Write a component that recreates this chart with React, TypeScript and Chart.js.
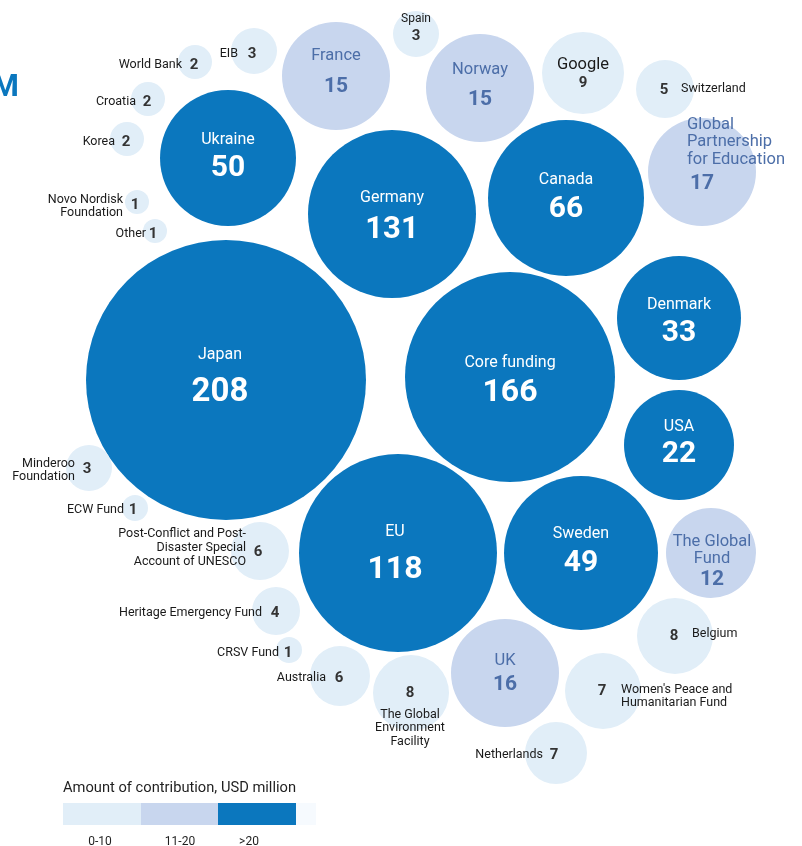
import React, { useEffect, useRef } from "react";
import { Chart, registerables } from "chart.js";

Chart.register(...registerables);

// ---------- DATA ----------
const donors: string[] = [
  "Japan", "Core funding", "Germany", "EU", "Canada", "Ukraine", "Sweden", "Denmark", "USA",
  "Global\nPartnership\nfor Education", "UK", "France", "Norway", "The Global\nFund", "Google",
  "Belgium", "Women's Peace and\nHumanitarian Fund", "The Global\nEnvironment\nFacility", "Netherlands",
  "Post-Conflict and Post-\nDisaster Special\nAccount of UNESCO", "Australia", "Switzerland",
  "Heritage Emergency Fund", "EIB", "Spain", "Minderoo\nFoundation", "World Bank", "Croatia", "Korea",
  "Novo Nordisk\nFoundation", "Other", "ECW Fund", "CRSV Fund",
];
const amounts: number[] = [
  208, 166, 131, 118, 66, 50, 49, 33, 22,
  17, 16, 15, 15, 12, 9,
  8, 7, 8, 7,
  6, 6, 5,
  4, 3, 3, 3, 2, 2, 2,
  1, 1, 1, 1,
];
const legendTitle = "Amount of contribution, USD million";
const legendBins: string[] = ["0-10", "11-20", ">20"];

// ---------- LAYOUT (packing positions in chart units, radius in px) ----------
const packX = [226, 510, 392, 398, 566, 228, 581, 679, 679, 702, 505, 336, 480, 711, 583, 675, 603, 411, 556, 260, 340, 665, 276, 254, 416, 89, 195, 148, 127, 137, 155, 135, 289];
const packY = [380, 377, 214, 553, 198, 158, 553, 318, 445, 172, 673, 76, 88, 553, 73, 636, 691, 693, 753, 551, 676, 89, 611, 51, 34, 468, 62, 99, 139, 202, 231, 508, 650];
const packR = [140, 105, 84, 99, 78, 68, 77, 62, 55, 54, 54, 54, 54, 45, 41, 38, 38, 38, 31, 29, 30, 29, 24, 23, 23, 23, 17, 17, 17, 12, 12, 13, 13];

// label placement: [nameDx, nameDy, align, valueDx, valueDy, lineHeight, nameSize, valueSize]
type LP = [number, number, CanvasTextAlign, number, number, number, number, number];
const labelPos: LP[] = [
  [-6, -27, "center", -6, 11, 18, 16, 33], // Japan
  [0, -16, "center", 0, 14, 18, 16, 32], // Core
  [0, -18, "center", 0, 14, 18, 16, 31], // Germany
  [-3, -23, "center", -3, 15, 18, 16, 32], // EU
  [0, -20, "center", 0, 9, 18, 16, 30], // Canada
  [0, -20, "center", 0, 8, 18, 16, 30], // Ukraine
  [0, -21, "center", 0, 8, 18, 16, 30], // Sweden
  [0, -15, "center", 0, 13, 18, 16, 30], // Denmark
  [0, -20, "center", 0, 7, 18, 16, 30], // USA
  [-15, -32, "left", 0, 10, 17.5, 16.5, 21], // GPE
  [0, -14, "center", 0, 10, 18, 16.5, 21], // UK
  [0, -22, "center", 0, 9, 18, 16.5, 21], // France
  [0, -20, "center", 0, 10, 18, 16.5, 21], // Norway
  [1, -4.5, "center", 1, 25, 17, 16.5, 21], // Global Fund
  [0, -10, "center", 0, 8, 18, 16.5, 15], // Google
  [17, -4, "left", -1, -2, 13, 12.5, 15], // Belgium
  [18, 3.5, "left", -1, -2, 13.5, 12.5, 15], // Women's
  [-1, 33, "center", -1, -2, 13.5, 12.5, 15], // GEF
  [-13, 0, "right", -2, 0, 13, 12.5, 15], // Netherlands
  [-14, -5, "right", -2, -1, 14, 12.5, 15], // Post-Conflict
  [-14, 0, "right", -1, 0, 13, 12.5, 15], // Australia
  [16, -2, "left", -1, -1, 13, 12.5, 15], // Switzerland
  [-14, 0, "right", -1, 0, 13, 12.5, 15], // Heritage
  [-16, 1, "right", -2, 1, 13, 12.5, 15], // EIB
  [0, -17, "center", 0, 0, 13, 12, 15], // Spain
  [-14, 0, "right", -2, -1, 13, 12.5, 15], // Minderoo
  [-13, 1, "right", -1, 1, 13, 12.5, 15], // World Bank
  [-12, 1, "right", -1, 1, 13, 12.5, 15], // Croatia
  [-12, 1, "right", -1, 1, 13, 12.5, 15], // Korea
  [-14, 2, "right", -2, 1, 13, 12.5, 15], // Novo
  [-9, 1, "right", -2, 1, 13, 12.5, 15], // Other
  [-11, 0, "right", -2, 0, 13, 12.5, 15], // ECW
  [-10, 1, "right", -1, 1, 13, 12.5, 15], // CRSV
];

// ---------- STYLE ----------
const DARK = "#0b77be";
const MID = "#c8d6ee";
const LIGHT = "#e1eef8";
const FAINT = "#f6fafe";
const FONT = "Roboto, 'Noto Sans', sans-serif";
const TEXT_NUDGE = 2;

function tier(v: number): number {
  return v <= 10 ? 0 : v <= 20 ? 1 : 2;
}
const fills = [LIGHT, MID, DARK];
const nameColors = ["#1a1a1a", "#4c6ea8", "#ffffff"];
const valueColors = ["#333333", "#4c6ea8", "#ffffff"];

const labelPlugin = {
  id: "bubbleLabels",
  afterDatasetsDraw(chart: any) {
    const ctx: CanvasRenderingContext2D = chart.ctx;
    const xs = chart.scales.x;
    const ys = chart.scales.y;
    ctx.save();
    ctx.textBaseline = "middle";
    donors.forEach((name, i) => {
      const [ndx, ndy, align, vdx, vdy, lh, ns, vs] = labelPos[i];
      const t = tier(amounts[i]);
      const cx = xs.getPixelForValue(packX[i]);
      const cy = ys.getPixelForValue(packY[i]) + TEXT_NUDGE;
      const lines = name.split("\n");
      ctx.font = `400 ${ns}px ${FONT}`;
      ctx.fillStyle = nameColors[t];
      ctx.textAlign = align;
      const y0 = cy + ndy - ((lines.length - 1) * lh) / 2;
      lines.forEach((ln, k) => ctx.fillText(ln, cx + ndx, y0 + k * lh));
      ctx.font = `700 ${vs}px ${FONT}`;
      ctx.fillStyle = valueColors[t];
      ctx.textAlign = "center";
      ctx.fillText(String(amounts[i]), cx + vdx, cy + vdy);
    });
    ctx.restore();
  },
};

export default function App() {
  const ref = useRef<HTMLCanvasElement | null>(null);

  useEffect(() => {
    document.body.style.margin = "0";
    if (!ref.current) return;
    const chart = new Chart(ref.current, {
      type: "bubble",
      data: {
        datasets: [
          {
            label: "Contributions",
            data: donors.map((_, i) => ({ x: packX[i], y: packY[i], r: packR[i] })),
            backgroundColor: amounts.map((v) => fills[tier(v)]),
            borderWidth: 0,
            hoverBorderWidth: 0,
            clip: false as any,
          },
        ],
      },
      options: {
        responsive: false,
        maintainAspectRatio: false,
        animation: false,
        events: [],
        layout: { padding: 0, autoPadding: false },
        plugins: { legend: { display: false }, tooltip: { enabled: false } },
        scales: {
          x: { type: "linear", min: 0, max: 802, display: false },
          y: { type: "linear", min: 0, max: 846, reverse: true, display: false },
        },
      },
      plugins: [labelPlugin],
    });
    return () => chart.destroy();
  }, []);

  const segW = [78, 77, 78, 20];
  const segC = [LIGHT, MID, DARK, FAINT];
  const binCenters = [100, 180, 249];

  return (
    <div style={{ position: "relative", width: 802, height: 846, overflow: "hidden", fontFamily: FONT }}>
      <canvas ref={ref} width={802} height={846} style={{ position: "absolute", left: 0, top: 0, display: "block" }} />
      <div
        style={{
          position: "absolute",
          right: 802 - 19,
          top: 68,
          fontSize: 31,
          fontWeight: 700,
          color: DARK,
          lineHeight: "36px",
          whiteSpace: "nowrap",
        }}
      >
        M
      </div>
      <div
        style={{
          position: "absolute",
          left: 63,
          top: 777,
          fontSize: 14.7,
          lineHeight: "20px",
          color: "#1f1f1f",
          whiteSpace: "nowrap",
        }}
      >
        {legendTitle}
      </div>
      <div style={{ position: "absolute", left: 63, top: 803, height: 22, display: "flex" }}>
        {segW.map((w, i) => (
          <div key={i} style={{ width: w, height: 22, background: segC[i] }} />
        ))}
      </div>
      {legendBins.map((b, i) => (
        <div
          key={b}
          style={{
            position: "absolute",
            left: binCenters[i] - 30,
            width: 60,
            textAlign: "center",
            top: 833,
            fontSize: 12,
            lineHeight: "16px",
            color: "#1f1f1f",
          }}
        >
          {b}
        </div>
      ))}
    </div>
  );
}
